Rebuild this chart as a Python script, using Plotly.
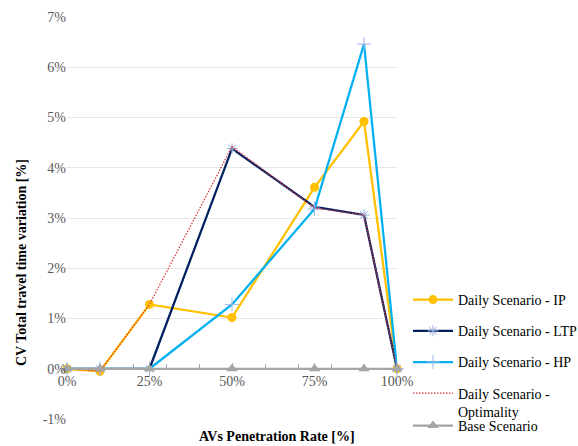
import plotly.graph_objects as go

penetration = [0, 10, 25, 50, 75, 90, 100]
ip_vals = [0.0, -0.05, 1.28, 1.02, 3.61, 4.92, 0.0]
ltp_vals = [0.0, 0.0, 0.0, 4.38, 3.22, 3.06, 0.0]
hp_vals = [0.0, 0.0, 0.0, 1.28, 3.18, 6.46, 0.0]
opt_vals = [0.0, -0.05, 1.28, 4.42, 3.20, 3.06, 0.0]
base_vals = [0.0, 0.0, 0.0, 0.0, 0.0, 0.0, 0.0]

x_tickvals = [0, 25, 50, 75, 100]
x_ticktext = ["0%", "25%", "50%", "75%", "100%"]
y_tickvals = [-1, 0, 1, 2, 3, 4, 5, 6, 7]
y_ticktext = ["-1%", "0%", "1%", "2%", "3%", "4%", "5%", "6%", "7%"]

names = ["Daily Scenario - IP", "Daily Scenario - LTP", "Daily Scenario - HP",
         "Daily Scenario -<br>Optimality", "Base Scenario"]

FONT = "Liberation Serif"

fig = go.Figure()
fig.add_trace(go.Scatter(x=penetration, y=ip_vals, name=names[0], mode="lines+markers",
                         line=dict(color="#FFC000", width=2.25),
                         marker=dict(symbol="circle", size=9, color="#FFC000"),
                         legendgroup="a", cliponaxis=False))
fig.add_trace(go.Scatter(x=penetration, y=ltp_vals, name=names[1], mode="lines+markers",
                         line=dict(color="#002060", width=2.25),
                         marker=dict(symbol="asterisk-open", size=9, color="#8FAADC",
                                     line=dict(color="#8FAADC", width=1)),
                         legendgroup="b", cliponaxis=False))
fig.add_trace(go.Scatter(x=penetration, y=hp_vals, name=names[2], mode="lines+markers",
                         line=dict(color="#00B0F0", width=2.25),
                         marker=dict(symbol="cross-thin-open", size=10, color="#9DB5E3",
                                     line=dict(color="#9DB5E3", width=1)),
                         legendgroup="c", cliponaxis=False))
fig.add_trace(go.Scatter(x=penetration, y=opt_vals, name=names[3], mode="lines",
                         line=dict(color="#D8383A", width=1.25, dash="1.5px,1.5px"),
                         legendgroup="d", cliponaxis=False))
fig.add_trace(go.Scatter(x=penetration, y=base_vals, name=names[4], mode="lines+markers",
                         line=dict(color="#A5A5A5", width=2.25),
                         marker=dict(symbol="triangle-up", size=10, color="#A5A5A5"),
                         legend="legend2", cliponaxis=False))

fig.update_layout(
    width=578, height=446,
    margin=dict(l=67, r=181, t=17, b=27, autoexpand=False),
    paper_bgcolor="white", plot_bgcolor="white",
    font=dict(family=FONT, size=14, color="#595959"),
    xaxis=dict(range=[0, 100], tickvals=x_tickvals, ticktext=x_ticktext,
               anchor="free", position=0.125, automargin=False,
               showline=True, linecolor="#A5A5A5", linewidth=1.5,
               showgrid=False, zeroline=False,
               ticks="inside", ticklen=5, tickcolor="#A5A5A5", tickwidth=1,
               minor=dict(dtick=10, ticks="inside", ticklen=4, tickcolor="#A5A5A5", showgrid=False),
               tickfont=dict(family=FONT, size=14, color="#595959")),
    yaxis=dict(range=[-1, 7], tickvals=y_tickvals, ticktext=y_ticktext, automargin=False,
               showgrid=True, gridcolor="#E6E6E6", gridwidth=1,
               zeroline=False, showline=False, ticks="",
               tickfont=dict(family=FONT, size=14, color="#595959")),
    legend=dict(x=(408 - 67) / 330, y=(419 - 284) / 402, xanchor="left", yanchor="top",
                traceorder="grouped", tracegroupgap=10, itemwidth=40,
                valign="top", bgcolor="rgba(0,0,0,0)",
                font=dict(family=FONT, size=14, color="#000000")),
    legend2=dict(x=(408 - 67) / 330, y=(419 - 426) / 402, xanchor="left", yanchor="middle",
                 itemwidth=40, bgcolor="rgba(0,0,0,0)",
                 font=dict(family=FONT, size=14, color="#000000")),
    showlegend=True,
)

fig.add_annotation(text="<b>AVs Penetration Rate [%]</b>", xref="paper", yref="paper",
                   x=(277 - 67) / 330, y=(419 - 437) / 402, xanchor="center", yanchor="middle",
                   showarrow=False, font=dict(family=FONT, size=14, color="#000000"))
fig.add_annotation(text="<b>CV Total travel time variation [%]</b>", xref="paper", yref="paper",
                   x=(21 - 67) / 330, y=(419 - 263) / 402, xanchor="center", yanchor="middle",
                   textangle=-90, showarrow=False, font=dict(family=FONT, size=14, color="#000000"))

fig.write_html("out.html", config={"displayModeBar": False},
               post_script="document.body.style.margin='0';document.body.style.padding='0';")
